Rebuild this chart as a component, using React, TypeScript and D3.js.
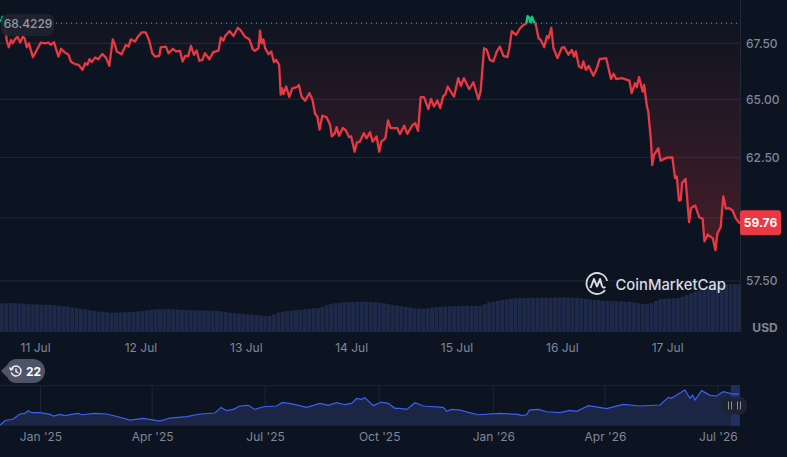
import React, { useEffect, useRef } from 'react';
import * as d3 from 'd3';

const WIDTH = 787;
const HEIGHT = 457;
const BG = "#0d1421";
const GRID = "#222936";
const MUTED = "#7f8798";
const FONT = "Inter, sans-serif";

// hours since 11 Jul 00:00, price in USD
const pricePoints: [number, number][] = [
  [-7.9, 68.5], [-7.7, 68.56], [-7.4, 68.72], [-7.1, 68.38], [-6.6, 67.96], [-6.5, 67.65], [-6, 67.32], [-5.5, 67.65], [-5.1, 67.5], [-4.6, 67.68],
  [-4, 67.8], [-3.4, 67.53], [-2.8, 67.8], [-2.4, 67.73], [-1.9, 67.32], [-1.4, 67.5], [-1, 67.2], [-0.5, 66.87], [0.2, 67.13], [1.3, 67.53],
  [2.3, 67.5], [3, 67.53], [3.6, 67.43], [4.3, 67.55], [5.3, 66.9], [5.9, 67.25], [6.8, 67.08], [7.6, 66.98], [8.2, 66.65], [9.1, 66.56],
  [9.9, 66.53], [10.8, 66.3], [11.4, 66.6], [11.9, 66.53], [12.4, 66.78], [12.9, 66.65], [13.7, 66.86], [14.4, 66.78], [15.3, 67.02], [16.2, 66.83],
  [16.9, 66.48], [17.7, 67.68], [18.2, 67.43], [18.6, 67.13], [19.7, 67], [20.7, 67.43], [21.3, 67.35], [21.8, 67.68], [22.8, 67.58], [23.3, 67.77],
  [24.3, 68], [25.2, 68], [26, 67.62], [26.7, 67.05], [27.3, 66.9], [28.3, 66.93], [28.6, 67.31], [29.8, 67.35], [30.4, 67.05], [31.4, 67.25],
  [32.1, 67.13], [33, 67.16], [33.6, 66.68], [34.2, 66.93], [34.9, 66.93], [35.5, 67.38], [36.2, 66.98], [36.8, 67.17], [37.4, 66.71], [38.1, 66.75],
  [38.7, 67.05], [39.7, 66.78], [40.6, 67.1], [41.8, 67.17], [42.3, 67.77], [42.9, 67.62], [43.3, 67.83], [44.3, 68.06], [45.2, 67.83], [46.2, 68.21],
  [46.8, 68.1], [47.8, 67.8], [48.8, 67.68], [49.6, 67.23], [50.1, 67.16], [50.9, 67.28], [51.25, 68.08], [51.6, 67.5], [52, 67.68], [52.4, 67.28],
  [53.2, 67], [53.8, 67.13], [54.4, 66.65], [54.9, 66.75], [55.6, 66.53], [55.95, 65.2], [56.3, 65.48], [56.6, 65.22], [57.2, 65.56], [57.9, 65.1],
  [58.6, 65.48], [59.6, 65.53], [60.1, 65.63], [60.7, 65.12], [61.5, 64.93], [62.5, 65.27], [63.2, 64.97], [63.8, 64.35], [64.3, 64.25], [64.8, 63.68],
  [65.45, 64.28], [66.4, 64.22], [67.2, 63.89], [67.6, 63.39], [68.3, 63.53], [68.7, 63.79], [69.25, 63.42], [70.1, 63.75], [70.8, 63.65], [71.5, 63.36],
  [72, 63.39], [72.8, 62.74], [73.3, 63.13], [74, 63.17], [74.9, 63.53], [75.5, 63.31], [76.3, 63.57], [76.9, 63.17], [77.8, 63.39], [78.4, 62.74],
  [78.9, 63.17], [79.8, 63.31], [80.4, 64.08], [81, 63.75], [82, 63.75], [82.5, 63.75], [83.1, 63.49], [84.1, 63.85], [84.8, 63.5], [85.9, 63.85],
  [86.6, 63.96], [87.25, 63.63], [87.85, 65.09], [88.6, 65.09], [89.6, 64.57], [90.2, 65.01], [90.9, 64.68], [91.65, 64.94], [92.3, 64.61], [93, 65.14],
  [93.5, 65.22], [94, 65.56], [94.7, 65.34], [95.45, 65.12], [96.4, 65.93], [97, 65.59], [97.7, 65.93], [98.9, 65.44], [99.85, 65.75], [101, 65],
  [101.5, 65.34], [102.3, 67.28], [102.9, 67.2], [103.6, 66.75], [104.4, 66.68], [105.2, 67.13], [105.9, 67.35], [106.7, 66.93], [107.6, 66.87], [108.05, 67.28],
  [108.6, 68.06], [109.6, 67.88], [110.5, 68.2], [111.3, 68.34], [111.9, 68.41], [112.2, 68.75], [112.55, 68.69], [112.9, 68.47], [113.2, 68.72], [113.7, 68.47],
  [114.1, 68.34], [114.7, 67.73], [115.2, 67.65], [116, 67.32], [116.6, 67.83], [117, 67.73], [117.6, 68.21], [118.1, 67.28], [119, 66.83], [120, 67.3],
  [120.6, 67.32], [121.5, 66.98], [122.3, 67.2], [122.8, 66.9], [123.2, 67.13], [123.9, 66.46], [124.5, 66.38], [124.9, 66.68], [125.5, 66.3], [126.1, 66.48],
  [127.2, 66.04], [128, 66.38], [128.6, 66.78], [130.1, 66.83], [131.2, 65.89], [131.8, 66.13], [132.4, 65.89], [133.7, 65.93], [135.4, 65.82], [135.9, 65.27],
  [136.7, 65.71], [137.1, 65.53], [137.6, 65.98], [138.4, 65.34], [138.75, 65.63], [139.4, 64.68], [139.7, 64.46], [140.3, 63.24], [140.6, 62.18], [141, 62.6],
  [142, 62.89], [142.5, 62.36], [143.9, 62.49], [145.2, 62.5], [145.8, 61.63], [146.2, 61.7], [146.7, 60.7], [147.1, 60.73], [147.4, 61.43], [148.2, 61.6],
  [149, 59.83], [149.45, 60.4], [150.4, 60.5], [151.3, 60.03], [152.1, 59.96], [152.5, 59.06], [153.25, 59.33], [154.4, 59.18], [155, 58.71], [155.45, 59.37],
  [156.2, 59.63], [156.8, 60.88], [157.4, 60.37], [158, 60.4], [158.9, 60.3], [159.7, 59.96], [160.6, 59.76],
];

const priceTicks = [67.5, 65, 62.5, 60, 57.5];
const hiddenPriceLabels = [60];
const baselinePrice = 68.4229;
const lastPrice = 59.76;

const dayTicks = [0, 24, 48, 72, 96, 120, 144];
const dayLabels = ["11 Jul", "12 Jul", "13 Jul", "14 Jul", "15 Jul", "16 Jul", "17 Jul"];

// hourly volume, first bar at -8h
const volumes = [
  280, 282, 284, 282, 280, 276, 272, 270, 270, 268,
  268, 266, 262, 256, 252, 248, 240, 234, 228, 222,
  214, 206, 200, 196, 192, 188, 188, 190, 192, 194,
  196, 200, 204, 210, 216, 220, 222, 222, 224, 222,
  220, 216, 214, 212, 212, 210, 210, 208, 208, 206,
  200, 194, 188, 182, 180, 176, 172, 168, 164, 160,
  156, 158, 170, 188, 198, 204, 208, 214, 218, 222,
  226, 230, 234, 246, 262, 274, 282, 288, 292, 294,
  296, 298, 298, 296, 294, 292, 288, 282, 274, 266,
  258, 252, 246, 240, 234, 230, 228, 232, 238, 244,
  248, 250, 252, 252, 254, 254, 256, 256, 256, 256,
  272, 292, 298, 306, 316, 322, 328, 332, 334, 334,
  336, 336, 336, 338, 338, 338, 338, 338, 340, 338,
  338, 336, 332, 326, 318, 314, 312, 308, 306, 304,
  302, 300, 298, 298, 290, 284, 278, 274, 284, 306,
  322, 328, 330, 332, 334, 346, 364, 382, 398, 414,
  432, 448, 458, 466, 470, 472, 472, 474, 474,
];

// days since 1 Jan 2025, price in USD
const navPoints: [number, number][] = [
  [-32.6, 30.6], [-28.6, 34.7], [-21.9, 36.3], [-16.5, 41], [-12.5, 41.6], [-9.8, 44.1], [-7.1, 42.2], [-0.4, 42.2], [7.7, 40.6], [10.4, 39.1],
  [15.7, 40.6], [19.8, 39.4], [25.1, 40.6], [30.5, 41.6], [33.2, 40.3], [43.9, 41.6], [53.4, 41], [60.1, 39.1], [72.2, 35.3], [82.9, 36.9],
  [96.3, 34.4], [104.4, 37.2], [117.8, 38.5], [128.6, 41], [140.6, 41.9], [145.5, 47.2], [150.1, 44.1], [155.4, 45.3], [160.8, 48.5], [167.5, 49.1],
  [172.9, 45.3], [179.6, 47.8], [190.3, 48.5], [195.2, 51.9], [203.8, 50.3], [214.5, 47.2], [225.3, 51], [232, 49.1], [238.7, 51.6], [245.4, 49.7],
  [250.8, 51], [254.8, 55.7], [258.8, 54.7], [261.5, 56.3], [268.2, 48.8], [275, 52.2], [280.3, 51], [285.7, 46.3], [289.8, 46.3], [295.2, 45.3],
  [301.9, 51.6], [308.6, 48.5], [324.7, 47.2], [327.4, 43.5], [331.4, 45.3], [338.1, 44.7], [344.9, 42.5], [352.9, 40.3], [370.4, 41.6], [385.1, 40.6],
  [387.8, 39.4], [391.9, 40.3], [394, 44.7], [401.3, 45.3], [408, 43.1], [418.7, 42.2], [426.8, 44.4], [432.2, 43.5], [441.6, 48.8], [456.3, 46],
  [469.8, 50], [483.2, 48.5], [499.3, 49.4], [506, 56.6], [508.7, 55.7], [511.4, 57.9], [519.4, 63.5], [523.5, 55.7], [525.6, 58.8], [527.5, 54.1],
  [532.9, 62.9], [539.6, 58.5], [545, 57.9], [550.3, 61.9], [558.4, 59.7], [563.2, 59.76],
];

const navTicks = [0, 90, 181, 273, 365, 455, 546];
const navLabels = ["Jan '25", "Apr '25", "Jul '25", "Oct '25", "Jan '26", "Apr '26", "Jul '26"];
const eventCount = "22";

const App: React.FC = () => {
  const svgRef = useRef<SVGSVGElement>(null);

  useEffect(() => {
    if (!svgRef.current) return;
    const svg = d3.select(svgRef.current);
    svg.selectAll("*").remove();

    const plotRight = 740;
    const paneBottom = 331.5;

    const x = d3.scaleLinear().domain([-8, 160.6]).range([0, plotRight]);
    const y = d3.scaleLog().domain([57.5, 67.5]).range([281, 43.3]);
    const volY = d3.scaleLinear().domain([0, 1000]).range([paneBottom, paneBottom - 100]);
    const baseY = y(baselinePrice);

    const defs = svg.append("defs");
    const grad = defs.append("linearGradient")
      .attr("id", "below-fill")
      .attr("gradientUnits", "userSpaceOnUse")
      .attr("x1", 0).attr("x2", 0)
      .attr("y1", baseY).attr("y2", 255);
    grad.append("stop").attr("offset", "0%").attr("stop-color", "#ea3943").attr("stop-opacity", 0.01);
    grad.append("stop").attr("offset", "100%").attr("stop-color", "#ea3943").attr("stop-opacity", 0.26);

    defs.append("clipPath").attr("id", "above")
      .append("rect").attr("x", 0).attr("y", 0).attr("width", plotRight).attr("height", baseY);
    defs.append("clipPath").attr("id", "below")
      .append("rect").attr("x", 0).attr("y", baseY).attr("width", plotRight).attr("height", paneBottom - baseY);

    // Price grid and labels
    const yAxis = d3.axisRight(y).tickValues(priceTicks).tickSize(0).tickPadding(6)
      .tickFormat((d) => hiddenPriceLabels.includes(+d) ? "" : d3.format(".2f")(+d));
    const yG = svg.append("g").attr("transform", `translate(${plotRight},0)`).call(yAxis as any);
    yG.select(".domain").remove();
    yG.selectAll("text").style("font-family", FONT).style("font-size", "12px").style("font-weight", "500").style("fill", MUTED);

    svg.append("g").selectAll("line").data(priceTicks).join("line")
      .attr("x1", 0).attr("x2", plotRight)
      .attr("y1", (d) => y(d)).attr("y2", (d) => y(d))
      .attr("stroke", GRID).attr("stroke-width", 1);

    // Volume
    const barW = x(-7) - x(-8);
    svg.append("g").selectAll("rect").data(volumes).join("rect")
      .attr("x", (_, i) => x(-8 + i))
      .attr("y", (d) => volY(d))
      .attr("width", Math.max(barW - 0.5, 1))
      .attr("height", (d) => paneBottom - volY(d))
      .attr("fill", "#1f2a4b");

    // Axis frame
    svg.append("line").attr("x1", plotRight + 0.5).attr("x2", plotRight + 0.5).attr("y1", 0).attr("y2", paneBottom)
      .attr("stroke", GRID);
    svg.append("line").attr("x1", 0).attr("x2", plotRight).attr("y1", paneBottom).attr("y2", paneBottom)
      .attr("stroke", GRID);

    // Baseline area + line
    const area = d3.area<[number, number]>()
      .x((d) => x(d[0])).y0(baseY).y1((d) => y(d[1]));
    const line = d3.line<[number, number]>()
      .x((d) => x(d[0])).y((d) => y(d[1]));

    svg.append("path").datum(pricePoints)
      .attr("clip-path", "url(#below)")
      .attr("fill", "url(#below-fill)")
      .attr("d", area as any);
    svg.append("path").datum(pricePoints)
      .attr("clip-path", "url(#above)")
      .attr("fill", "#16c784").attr("fill-opacity", 0.35)
      .attr("d", area as any);
    svg.append("path").datum(pricePoints)
      .attr("clip-path", "url(#below)")
      .attr("fill", "none").attr("stroke", "#ea3943").attr("stroke-width", 2.3)
      .attr("stroke-linejoin", "round")
      .attr("d", line as any);
    svg.append("path").datum(pricePoints)
      .attr("clip-path", "url(#above)")
      .attr("fill", "none").attr("stroke", "#16c784").attr("stroke-width", 2.3)
      .attr("stroke-linejoin", "round")
      .attr("d", line as any);

    // Baseline dotted line and label
    svg.append("line")
      .attr("x1", 56).attr("x2", plotRight - 2)
      .attr("y1", baseY).attr("y2", baseY)
      .attr("stroke", "#8f96a6").attr("stroke-width", 1).attr("stroke-dasharray", "1 4");
    svg.append("rect").attr("x", 1).attr("y", 14).attr("width", 53).attr("height", 22).attr("rx", 7)
      .attr("fill", "#20242f").attr("fill-opacity", 0.92);
    svg.append("text").attr("x", 28).attr("y", baseY + 4.5).attr("text-anchor", "middle")
      .style("font-family", FONT).style("font-size", "12px").style("font-weight", "500").style("fill", "#9499a7")
      .text(d3.format(".4f")(baselinePrice));

    // Last price tag
    svg.append("rect").attr("x", 740).attr("y", y(lastPrice) - 13.5).attr("width", 41).attr("height", 25).attr("rx", 3)
      .attr("fill", "#ea3943");
    svg.append("text").attr("x", 760.5).attr("y", y(lastPrice) + 3.5).attr("text-anchor", "middle")
      .style("font-family", FONT).style("font-size", "12px").style("font-weight", "700").style("fill", "#ffffff")
      .text(lastPrice.toFixed(2));

    svg.append("text").attr("x", 765).attr("y", 332).attr("text-anchor", "middle")
      .style("font-family", FONT).style("font-size", "12px").style("font-weight", "700").style("fill", MUTED)
      .text("USD");

    // Day axis
    const xAxis = d3.axisBottom(x).tickValues(dayTicks).tickSize(0).tickPadding(0)
      .tickFormat((_, i) => dayLabels[i]);
    const xG = svg.append("g").attr("transform", "translate(0,343)").call(xAxis as any);
    xG.select(".domain").remove();
    xG.selectAll("text").style("font-family", FONT).style("font-size", "12px").style("fill", MUTED);

    // Logo
    const logo = svg.append("g").attr("transform", "translate(597,283.5)");
    logo.append("path")
      .attr("d", d3.arc()({ innerRadius: 9.6, outerRadius: 11.4, startAngle: Math.PI * 0.72, endAngle: Math.PI * 2.42 } as any) as string)
      .attr("fill", "#d9dbe0");
    logo.append("path")
      .attr("d", "M-6.5 4.5 L-3 -4.5 L0 3 L3 -4.5 L5 2.5 Q6 5 8.5 3.5")
      .attr("fill", "none").attr("stroke", "#d9dbe0").attr("stroke-width", 2).attr("stroke-linejoin", "round");
    svg.append("text").attr("x", 615.5).attr("y", 289.5)
      .style("font-family", FONT).style("font-size", "14.8px").style("font-weight", "500").style("fill", "#d9dbe0")
      .text("CoinMarketCap");

    // Event pill
    svg.append("path")
      .attr("d", "M1 371 L7.5 364.5 Q10 359 17 359 L33 359 A12 12 0 0 1 33 383 L17 383 Q10 383 7.5 377.5 Z")
      .attr("fill", "#4f5468");
    const clock = svg.append("g").attr("transform", "translate(16,371)")
      .attr("fill", "none").attr("stroke", "#eef0f3").attr("stroke-width", 1.4);
    clock.append("path").attr("d", d3.arc()({ innerRadius: 5, outerRadius: 5, startAngle: -Math.PI * 0.4, endAngle: Math.PI * 1.4 } as any) as string);
    clock.append("path").attr("d", "M0 -2.5 L0 0.5 L2.5 2");
    clock.append("path").attr("d", "M-6.5 -3.5 L-5 -1 L-2.5 -2.5");
    svg.append("text").attr("x", 26).attr("y", 375.5)
      .style("font-family", FONT).style("font-size", "12px").style("font-weight", "700").style("fill", "#ffffff")
      .text(eventCount);

    // Navigator
    const navX = d3.scaleLinear().domain([-32.6, 563.8]).range([0, plotRight]);
    const navY = d3.scaleLinear().domain([30, 68.2]).range([425.7, 385]);

    svg.append("line").attr("x1", 0).attr("x2", plotRight).attr("y1", 385.5).attr("y2", 385.5).attr("stroke", "#1c2330");
    svg.append("g").selectAll("line").data(navTicks).join("line")
      .attr("x1", (d) => navX(d)).attr("x2", (d) => navX(d))
      .attr("y1", 385).attr("y2", 425.7)
      .attr("stroke", "#1f2633");

    const navArea = d3.area<[number, number]>()
      .x((d) => navX(d[0])).y0(425.7).y1((d) => navY(d[1]));
    const navLine = d3.line<[number, number]>()
      .x((d) => navX(d[0])).y((d) => navY(d[1]));
    svg.append("path").datum(navPoints).attr("fill", "#1c2543").attr("d", navArea as any);

    svg.append("rect").attr("x", 731).attr("y", 385).attr("width", 9).attr("height", 40.7)
      .attr("fill", "#23356b").attr("fill-opacity", 0.8);

    svg.append("path").datum(navPoints)
      .attr("fill", "none").attr("stroke", "#3861fb").attr("stroke-width", 1.2)
      .attr("d", navLine as any);

    const navAxis = d3.axisBottom(navX).tickValues(navTicks).tickSize(0).tickPadding(0)
      .tickFormat((_, i) => navLabels[i]);
    const navG = svg.append("g").attr("transform", "translate(0,432)").call(navAxis as any);
    navG.select(".domain").remove();
    navG.selectAll("text").style("font-family", FONT).style("font-size", "12px").style("fill", MUTED);

    // Range handles
    [730, 739].forEach((cx) => {
      svg.append("rect").attr("x", cx - 8).attr("y", 396.5).attr("width", 16).attr("height", 18.5).attr("rx", 8)
        .attr("fill", "#1f2430").attr("fill-opacity", 0.9);
    });
    [730, 739].forEach((cx) => {
      [-1.5, 1.5].forEach((dx) => {
        svg.append("line").attr("x1", cx + dx).attr("x2", cx + dx).attr("y1", 401.5).attr("y2", 409.5)
          .attr("stroke", "#8a8f9c").attr("stroke-width", 1);
      });
    });
  }, []);

  return (
    <svg
      ref={svgRef}
      width={WIDTH}
      height={HEIGHT}
      style={{ position: "absolute", left: 0, top: 0, display: "block", background: BG }}
    />
  );
};

export default App;
